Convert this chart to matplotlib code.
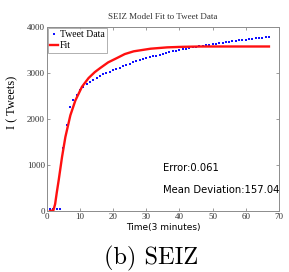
import matplotlib
matplotlib.use('Agg')
import matplotlib.pyplot as plt
import numpy as np

# tweet data (every 3 minutes)
t_data = np.arange(1, 68)
i_data = [50, 50, 50, 50, 1370, 1880, 2250, 2420, 2530, 2625,
          2700, 2755, 2805, 2855, 2900, 2940, 2970, 3000, 3030, 3060,
          3088, 3116, 3145, 3175, 3205, 3230, 3252, 3274, 3296, 3318,
          3338, 3358, 3378, 3397, 3415, 3432, 3450, 3467, 3484, 3500,
          3515, 3530, 3545, 3558, 3570, 3580, 3590, 3600, 3612, 3624,
          3636, 3648, 3660, 3670, 3680, 3690, 3700, 3710, 3718, 3726,
          3734, 3742, 3750, 3758, 3766, 3774, 3782]

# SEIZ model fit
t_fit = [1, 2, 2.5, 3, 3.6, 4.6, 5.6, 7.1, 8.6, 10.6, 12.6, 14.5, 16.2,
         18.5, 21.2, 23.5, 26.2, 31.3, 36.3, 41, 46.4, 55, 67]
i_fit = [0, 20, 150, 400, 680, 1180, 1610, 2080, 2400, 2700, 2890, 3020,
         3112, 3230, 3326, 3410, 3470, 3527, 3556, 3568, 3575, 3575, 3575]

error_txt = 'Error:0.061'
dev_txt = 'Mean Deviation:157.04'

serif = ['Liberation Serif', 'DejaVu Serif']
sans = ['DejaVu Sans', 'Liberation Sans']
gray = '#8c8c8c'

fig = plt.figure(figsize=(2.89, 2.72), dpi=100)
ax = fig.add_axes([0.162, 0.224, 0.803, 0.677])

ax.plot(t_data, i_data, linestyle='none', marker='s', markersize=1.5,
        markeredgewidth=0, color='#1010ff', label='Tweet Data')
ax.plot(t_fit, i_fit, color='#ff1010', linewidth=1.7, label='Fit')

ax.set_xlim(0, 70)
ax.set_ylim(0, 4000)
ax.set_xticks(range(0, 71, 10))
ax.set_yticks(range(0, 4001, 1000))
ax.tick_params(direction='in', length=2.5, width=0.6, colors=gray,
               labelcolor='#333333', labelsize=6.5, pad=1.5,
               top=True, right=True)
for lab in ax.get_xticklabels() + ax.get_yticklabels():
    lab.set_family(serif)
for s in ax.spines.values():
    s.set_color(gray)
    s.set_linewidth(0.7)

ax.set_title('SEIZ Model Fit to Tweet Data', family=serif, fontsize=6.5,
             color='#333333', pad=6)
ax.set_ylabel('I ( Tweets)', family=serif, fontsize=9)
ax.yaxis.set_label_coords(-0.125, 0.59)
ax.set_xlabel('Time(3 minutes)', family=sans, fontsize=6.5, labelpad=1.5)

leg = ax.legend(loc='upper left', prop={'family': serif, 'size': 7},
                borderaxespad=0.1, handlelength=0.8, handletextpad=0.2,
                labelspacing=0.2, borderpad=0.25, fancybox=False,
                numpoints=1, markerscale=1.0)
leg.get_frame().set_edgecolor(gray)
leg.get_frame().set_linewidth(0.6)

ax.text(0.5, 0.235, error_txt, transform=ax.transAxes, family=sans,
        fontsize=7.2, va='center', ha='left')
ax.text(0.5, 0.115, dev_txt, transform=ax.transAxes, family=sans,
        fontsize=7.2, va='center', ha='left')

fig.text(0.522, 0.026, '(b) SEIZ', family=['cmr10', 'DejaVu Serif'],
         fontsize=17.5, ha='center', va='baseline')

fig.savefig('out.png', dpi=100)
